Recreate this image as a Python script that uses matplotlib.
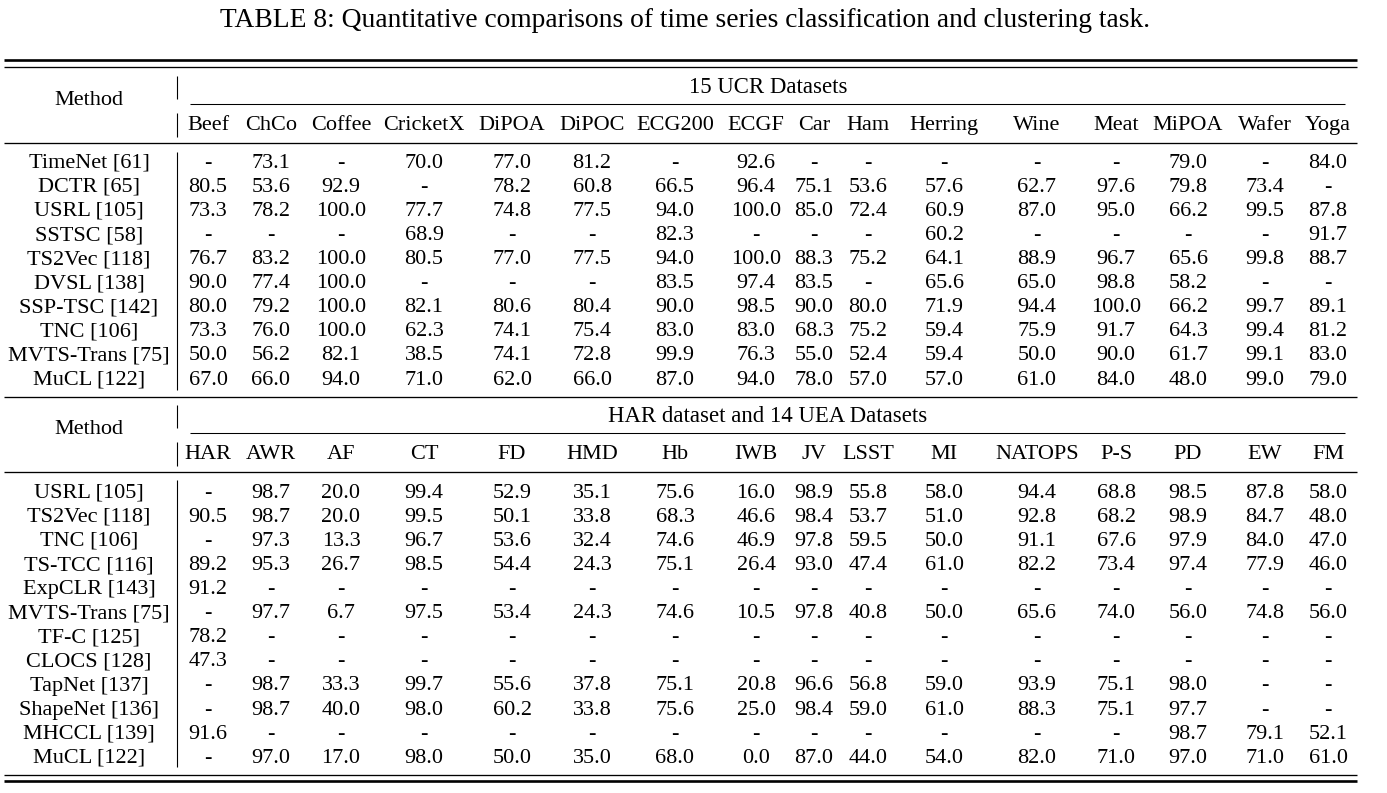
import matplotlib
matplotlib.use("Agg")
import matplotlib.pyplot as plt

# ---------------- data ----------------
title = "TABLE 8: Quantitative comparisons of time series classification and clustering task."

ucr_group = "15 UCR Datasets"
ucr_cols = ["Beef", "ChCo", "Coffee", "CricketX", "DiPOA", "DiPOC", "ECG200", "ECGF",
            "Car", "Ham", "Herring", "Wine", "Meat", "MiPOA", "Wafer", "Yoga"]
ucr_methods = ["TimeNet [61]", "DCTR [65]", "USRL [105]", "SSTSC [58]", "TS2Vec [118]",
               "DVSL [138]", "SSP-TSC [142]", "TNC [106]", "MVTS-Trans [75]", "MuCL [122]"]
N = None
ucr_values = [
    [N, 73.1, N, 70.0, 77.0, 81.2, N, 92.6, N, N, N, N, N, 79.0, N, 84.0],
    [80.5, 53.6, 92.9, N, 78.2, 60.8, 66.5, 96.4, 75.1, 53.6, 57.6, 62.7, 97.6, 79.8, 73.4, N],
    [73.3, 78.2, 100.0, 77.7, 74.8, 77.5, 94.0, 100.0, 85.0, 72.4, 60.9, 87.0, 95.0, 66.2, 99.5, 87.8],
    [N, N, N, 68.9, N, N, 82.3, N, N, N, 60.2, N, N, N, N, 91.7],
    [76.7, 83.2, 100.0, 80.5, 77.0, 77.5, 94.0, 100.0, 88.3, 75.2, 64.1, 88.9, 96.7, 65.6, 99.8, 88.7],
    [90.0, 77.4, 100.0, N, N, N, 83.5, 97.4, 83.5, N, 65.6, 65.0, 98.8, 58.2, N, N],
    [80.0, 79.2, 100.0, 82.1, 80.6, 80.4, 90.0, 98.5, 90.0, 80.0, 71.9, 94.4, 100.0, 66.2, 99.7, 89.1],
    [73.3, 76.0, 100.0, 62.3, 74.1, 75.4, 83.0, 83.0, 68.3, 75.2, 59.4, 75.9, 91.7, 64.3, 99.4, 81.2],
    [50.0, 56.2, 82.1, 38.5, 74.1, 72.8, 99.9, 76.3, 55.0, 52.4, 59.4, 50.0, 90.0, 61.7, 99.1, 83.0],
    [67.0, 66.0, 94.0, 71.0, 62.0, 66.0, 87.0, 94.0, 78.0, 57.0, 57.0, 61.0, 84.0, 48.0, 99.0, 79.0],
]

uea_group = "HAR dataset and 14 UEA Datasets"
uea_cols = ["HAR", "AWR", "AF", "CT", "FD", "HMD", "Hb", "IWB", "JV", "LSST", "MI",
            "NATOPS", "P-S", "PD", "EW", "FM"]
uea_methods = ["USRL [105]", "TS2Vec [118]", "TNC [106]", "TS-TCC [116]", "ExpCLR [143]",
               "MVTS-Trans [75]", "TF-C [125]", "CLOCS [128]", "TapNet [137]",
               "ShapeNet [136]", "MHCCL [139]", "MuCL [122]"]
uea_values = [
    [N, 98.7, 20.0, 99.4, 52.9, 35.1, 75.6, 16.0, 98.9, 55.8, 58.0, 94.4, 68.8, 98.5, 87.8, 58.0],
    [90.5, 98.7, 20.0, 99.5, 50.1, 33.8, 68.3, 46.6, 98.4, 53.7, 51.0, 92.8, 68.2, 98.9, 84.7, 48.0],
    [N, 97.3, 13.3, 96.7, 53.6, 32.4, 74.6, 46.9, 97.8, 59.5, 50.0, 91.1, 67.6, 97.9, 84.0, 47.0],
    [89.2, 95.3, 26.7, 98.5, 54.4, 24.3, 75.1, 26.4, 93.0, 47.4, 61.0, 82.2, 73.4, 97.4, 77.9, 46.0],
    [91.2, N, N, N, N, N, N, N, N, N, N, N, N, N, N, N],
    [N, 97.7, 6.7, 97.5, 53.4, 24.3, 74.6, 10.5, 97.8, 40.8, 50.0, 65.6, 74.0, 56.0, 74.8, 56.0],
    [78.2, N, N, N, N, N, N, N, N, N, N, N, N, N, N, N],
    [47.3, N, N, N, N, N, N, N, N, N, N, N, N, N, N, N],
    [N, 98.7, 33.3, 99.7, 55.6, 37.8, 75.1, 20.8, 96.6, 56.8, 59.0, 93.9, 75.1, 98.0, N, N],
    [N, 98.7, 40.0, 98.0, 60.2, 33.8, 75.6, 25.0, 98.4, 59.0, 61.0, 88.3, 75.1, 97.7, N, N],
    [91.6, N, N, N, N, N, N, N, N, N, N, N, N, 98.7, 79.1, 52.1],
    [N, 97.0, 17.0, 98.0, 50.0, 35.0, 68.0, 0.0, 87.0, 44.0, 54.0, 82.0, 71.0, 97.0, 71.0, 61.0],
]

# ---------------- layout (pixel coordinates) ----------------
W, H = 1387, 793
col_x = [208, 271, 341, 424, 512, 592, 675, 756, 814, 868, 944, 1037, 1116, 1188, 1265, 1328]
method_x = 89
bar_x = 177
x_left, x_right = 4, 1357
cmid_l, cmid_r = 190, 1345
group_x = 768
FONT = "Liberation Serif"
FS = 16
BASE = 7.2  # baseline offset from visual centre of text
THIN, THICK = 0.95, 1.9

fig = plt.figure(figsize=(W / 100, H / 100), dpi=100)
ax = fig.add_axes([0, 0, 1, 1])
ax.set_xlim(0, W)
ax.set_ylim(H, 0)
ax.axis("off")


def txt(x, y, s, size=FS, ha="center"):
    ax.text(x, y + BASE * size / FS, s, fontsize=size, family=FONT, ha=ha, va="baseline",
            color="black")


def fmt(v):
    return "-" if v is None else f"{v:.1f}"


ax.text(685, 27, title, fontsize=19.8, family=FONT, ha="center", va="baseline")


def block(y0, group, cols, methods, values, row0, bar_top, bar_bot):
    txt(group_x, y0, group, size=16.4)
    txt(method_x, y0 + 12, "Method")
    ax.vlines(bar_x, y0 - 10, y0 + 13, color="black", lw=0.8)
    ax.hlines(y0 + 18, cmid_l, cmid_r, color="black", lw=THIN * 0.8)
    ax.vlines(bar_x, y0 + 27, y0 + 51, color="black", lw=0.8)
    for x, c in zip(col_x, cols):
        txt(x, y0 + 37, c)
    ax.hlines(y0 + 57, x_left, x_right, color="black", lw=THIN)
    ax.vlines(bar_x, bar_top, bar_bot, color="black", lw=0.8)
    for i, (m, row) in enumerate(zip(methods, values)):
        y = row0 + 24.1 * i
        txt(method_x, y, m)
        for x, v in zip(col_x, row):
            txt(x, y, fmt(v))


# top double rule
ax.hlines(60, x_left, x_right, color="black", lw=THICK)
ax.hlines(67, x_left, x_right, color="black", lw=THIN)

block(86, ucr_group, ucr_cols, ucr_methods, ucr_values, 160.5, 152, 390)
ax.hlines(397, x_left, x_right, color="black", lw=THIN)
block(415, uea_group, uea_cols, uea_methods, uea_values, 490.5, 480, 767)

ax.hlines(775, x_left, x_right, color="black", lw=THIN)
ax.hlines(781, x_left, x_right, color="black", lw=THICK)

fig.savefig("out.png", dpi=100, facecolor="white")
